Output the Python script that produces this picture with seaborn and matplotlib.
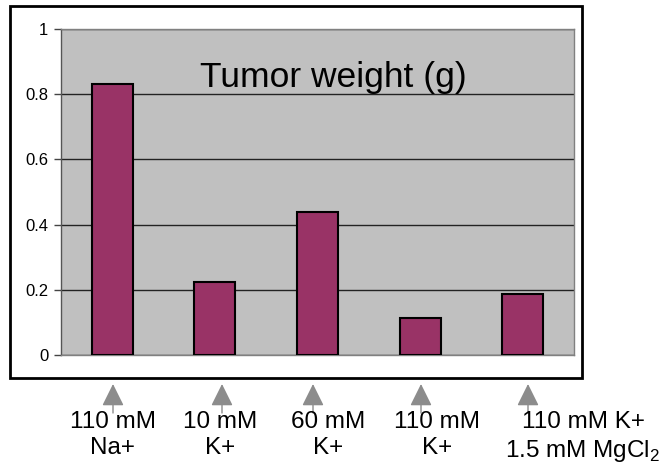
import numpy as np
import pandas as pd
import seaborn as sb
import matplotlib.pyplot as plt
from matplotlib.patches import Rectangle

# values
conditions = ['110 mM Na+', '10 mM K+', '60 mM K+', '110 mM K+', '110 mM K+ 1.5 mM MgCl2']
tumor_weight = [0.83, 0.225, 0.44, 0.115, 0.187]
bottom_labels = ['110 mM\nNa+', '10 mM\nK+', '60 mM\nK+', '110 mM\nK+',
                 '110 mM K+\n1.5 mM MgCl$_{\\mathregular{2}}$']
y_ticks = [0, 0.2, 0.4, 0.6, 0.8, 1]
y_ticklabels = ['0', '0.2', '0.4', '0.6', '0.8', '1']

sb.set_theme(style='white')
plt.rcParams['font.family'] = ['Liberation Sans', 'DejaVu Sans']
plt.rcParams['mathtext.fontset'] = 'custom'
plt.rcParams['mathtext.rm'] = 'Liberation Sans'
plt.rcParams['text.color'] = 'black'
plt.rcParams['ytick.labelcolor'] = 'black'

W, H = 664, 472
fig = plt.figure(figsize=(W / 100, H / 100), dpi=100)
fig.patch.set_facecolor('white')

# outer frame
fig.patches.append(Rectangle((10 / W, (H - 378) / H), 572 / W, 372 / H,
                             transform=fig.transFigure, fill=False,
                             lw=2, ec='black'))

ax = fig.add_axes([61 / W, (H - 355) / H, (574 - 61) / W, (355 - 29) / H])
ax.set_facecolor('#C0C0C0')

df = pd.DataFrame({'condition': conditions, 'weight': tumor_weight})
sb.barplot(data=df, x='condition', y='weight', color='#993366', saturation=1,
           width=0.4, edgecolor='black', linewidth=1.5, ax=ax, zorder=3)

ax.set_ylim(0, 1)
ax.set_xlim(-0.5, len(conditions) - 0.5)
ax.set_yticks(y_ticks)
ax.set_yticklabels(y_ticklabels, fontsize=12, color='black')
ax.set_xticks([])
ax.set_xlabel('')
ax.set_ylabel('')
ax.yaxis.grid(True, color='#222222', lw=1)
ax.set_axisbelow(True)
ax.tick_params(axis='y', which='major', left=True, length=5, width=1,
               color='#444444', direction='out', pad=4)
for s in ax.spines.values():
    s.set_color('#808080')
    s.set_linewidth(1)
ax.spines['left'].set_color('#555555')

ax.text(0.53, 0.85, 'Tumor weight (g)', transform=ax.transAxes,
        ha='center', va='center', fontsize=25.5, color='black')

# arrows + condition labels under the frame (not aligned to bars in the original)
arrow_x = [113, 222, 313, 421, 528]
label_x = [113, 220, 328, 437, 583]
for ax_x, lx, lab in zip(arrow_x, label_x, bottom_labels):
    ax.annotate('', xy=(ax_x, H - 384), xytext=(ax_x, H - 413),
                xycoords='figure pixels', textcoords='figure pixels',
                arrowprops=dict(arrowstyle='-|>,head_length=1.37,head_width=0.68',
                                mutation_scale=10, color='#8c8c8c', lw=1,
                                shrinkA=0, shrinkB=0))
    fig.text(lx / W, (H - 411) / H, lab, ha='center', va='top', fontsize=17.5,
             linespacing=1.25, multialignment='center', color='black')

plt.savefig('out.png', dpi=100)
plt.close('all')
